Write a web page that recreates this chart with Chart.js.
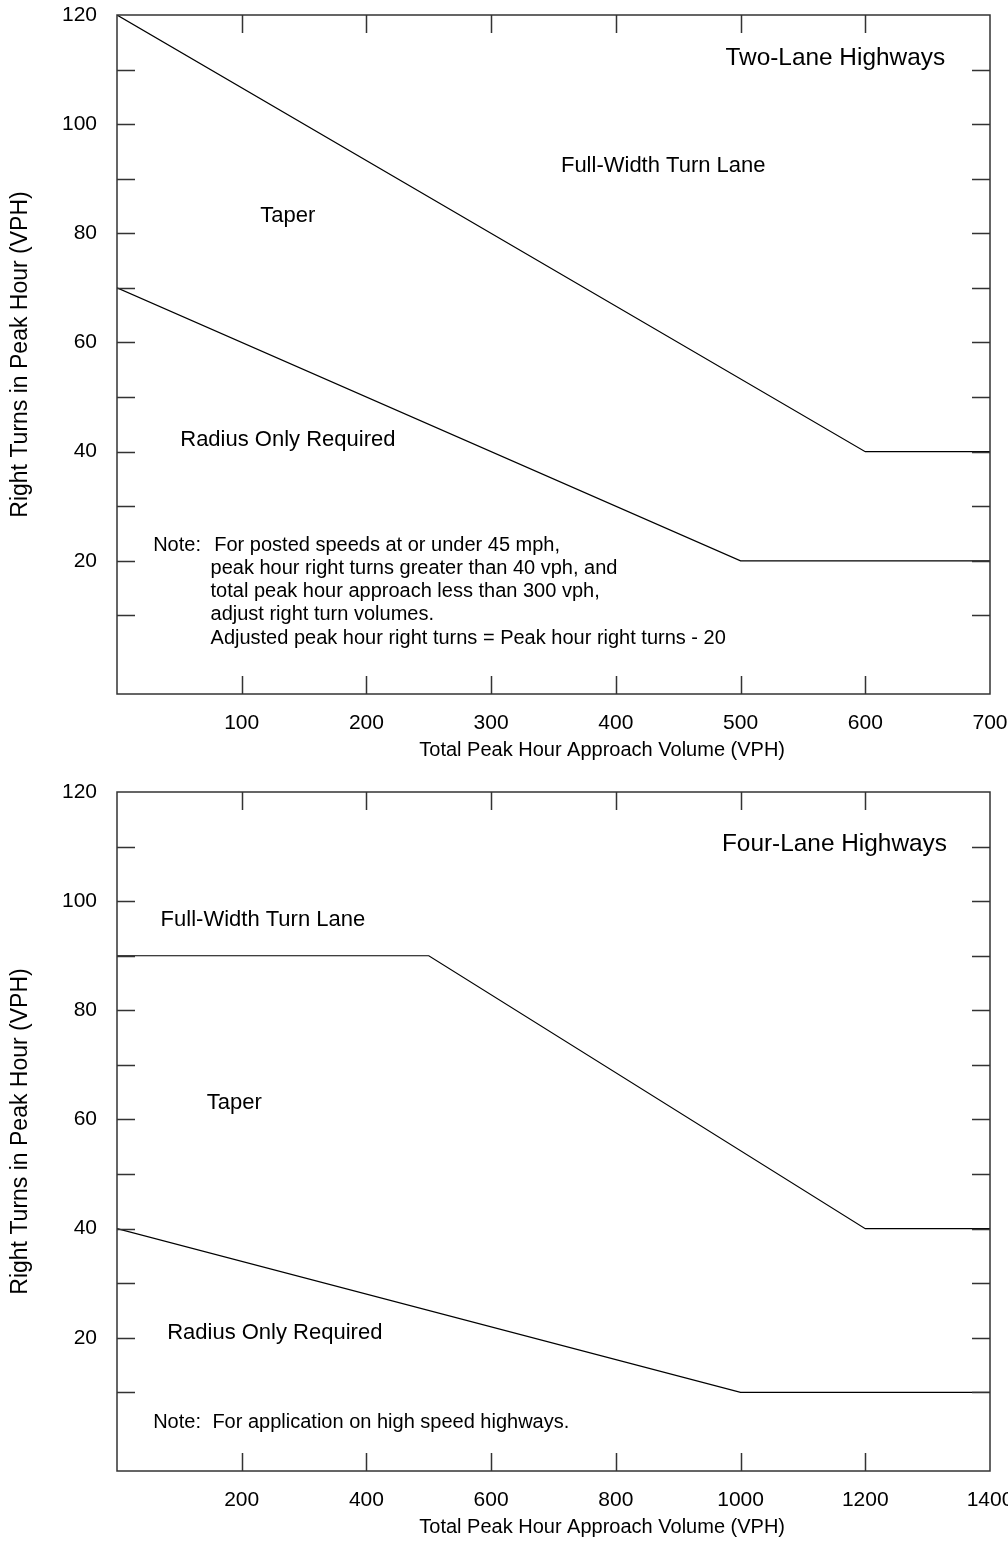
<!DOCTYPE html>
<html>
<head>
  <title>Right Turn Lane Guidelines</title>
<script src="https://cdn.jsdelivr.net/npm/chart.js"></script>
<meta name="viewport" content="width=device-width, initial-scale=1.0">
</head>
<style>
html, body {
  margin: 0;
  padding: 0;
  background: #fff;
  overflow: hidden;
}

#page {
  width: 1030px;
}

canvas {
  display: block;
}
</style>
<body>
<div id="page">
  <canvas id="twoLane" width="1030" height="772"></canvas>
  <canvas id="fourLane" width="1030" height="773"></canvas>
</div>
</body>
<script>
// tick values shared by both charts
const yTicks = [10, 20, 30, 40, 50, 60, 70, 80, 90, 100, 110, 120];
const twoLaneXTicks = [100, 200, 300, 400, 500, 600, 700];
const fourLaneXTicks = [200, 400, 600, 800, 1000, 1200, 1400];

// two-lane boundaries
const twoLaneUpperX = [0, 600, 700];
const twoLaneUpperY = [120, 40, 40];
const twoLaneLowerX = [0, 500, 700];
const twoLaneLowerY = [70, 20, 20];

// four-lane boundaries
const fourLaneUpperX = [0, 500, 1200, 1400];
const fourLaneUpperY = [90, 90, 40, 40];
const fourLaneLowerX = [0, 1000, 1400];
const fourLaneLowerY = [40, 10, 10];

const FONT = "'Liberation Sans', Arial, Helvetica, sans-serif";
Chart.defaults.font.family = FONT;
Chart.defaults.color = '#000';

function points(xs, ys) {
  return xs.map((x, i) => ({ x: x, y: ys[i] }));
}

// box, inward tick marks, region labels and x title
const framePlugin = {
  id: 'frame',
  afterDatasetsDraw(chart, args, opts) {
    const ctx = chart.ctx;
    const a = chart.chartArea;
    const x = chart.scales.x;
    const y = chart.scales.y;
    ctx.save();
    ctx.strokeStyle = '#333';
    ctx.lineWidth = 1.5;
    ctx.strokeRect(a.left, a.top, a.right - a.left, a.bottom - a.top);

    ctx.beginPath();
    x.ticks.forEach(t => {
      if (t.value <= x.min || t.value >= x.max) return;
      const px = Math.round(x.getPixelForValue(t.value)) + 0.5;
      ctx.moveTo(px, a.bottom);
      ctx.lineTo(px, a.bottom - 18);
      ctx.moveTo(px, a.top);
      ctx.lineTo(px, a.top + 18);
    });
    y.ticks.forEach(t => {
      if (t.value <= y.min || t.value >= y.max) return;
      const py = Math.round(y.getPixelForValue(t.value)) + 0.5;
      ctx.moveTo(a.left, py);
      ctx.lineTo(a.left + 18, py);
      ctx.moveTo(a.right, py);
      ctx.lineTo(a.right - 18, py);
    });
    ctx.stroke();

    // text is centred on its cap height, a little below the em middle
    const drop = 2;
    ctx.fillStyle = '#000';
    ctx.textBaseline = 'middle';
    opts.labels.forEach(l => {
      ctx.font = l.size + 'px ' + FONT;
      ctx.textAlign = l.align;
      ctx.fillText(l.text, x.getPixelForValue(l.x), y.getPixelForValue(l.y) + drop);
    });

    // note block
    const n = opts.note;
    ctx.font = n.size + 'px ' + FONT;
    ctx.textAlign = 'left';
    const ny = y.getPixelForValue(n.y) + drop;
    ctx.fillText('Note:', x.getPixelForValue(n.x), ny);
    n.lines.forEach((line, i) => {
      const lx = i === 0 ? n.first : n.indent;
      ctx.fillText(line, x.getPixelForValue(lx), ny + i * n.spacing);
    });

    // x axis title
    ctx.font = '20px ' + FONT;
    ctx.textAlign = 'center';
    ctx.fillText('Total Peak Hour Approach Volume (VPH)', x.getPixelForValue(opts.titleAt), a.bottom + 56);
    ctx.restore();
  }
};

function makeChart(id, xMax, xTicks, sets, frame, padTop, padBottom) {
  return new Chart(document.getElementById(id), {
    type: 'line',
    data: {
      datasets: sets.map(s => ({
        data: s,
        borderColor: '#000',
        borderWidth: 1.2,
        pointRadius: 0,
        fill: false,
        tension: 0
      }))
    },
    options: {
      responsive: false,
      animation: false,
      layout: { padding: { top: padTop, bottom: padBottom, left: 0, right: 40 } },
      plugins: {
        legend: { display: false },
        tooltip: { enabled: false },
        frame: frame
      },
      scales: {
        x: {
          type: 'linear',
          min: 0,
          max: xMax,
          afterBuildTicks: s => { s.ticks = xTicks.map(v => ({ value: v })); },
          afterFit: s => {
            s.height = 69;
            s.paddingLeft = 0;
            s.paddingRight = 0;
          },
          grid: { display: false, drawTicks: false },
          border: { display: false },
          ticks: {
            autoSkip: false,
            maxRotation: 0,
            padding: 17,
            font: { size: 21 },
            color: '#000',
            callback: v => String(v)
          }
        },
        y: {
          type: 'linear',
          min: -4.4,
          max: 120,
          afterBuildTicks: s => { s.ticks = yTicks.map(v => ({ value: v })); },
          afterFit: s => {
            s.width = 117;
            s.paddingTop = 0;
            s.paddingBottom = 0;
          },
          grid: { display: false, drawTicks: false },
          border: { display: false },
          ticks: {
            autoSkip: false,
            padding: 20,
            font: { size: 21 },
            color: '#000',
            callback: v => (v % 20 === 0 ? String(v) : '')
          },
          title: {
            display: true,
            text: 'Right Turns in Peak Hour (VPH)',
            color: '#000',
            font: { size: 23 },
            padding: { top: 7, bottom: 0 }
          }
        }
      }
    },
    plugins: [framePlugin]
  });
}

makeChart('twoLane', 700, twoLaneXTicks,
  [points(twoLaneUpperX, twoLaneUpperY), points(twoLaneLowerX, twoLaneLowerY)],
  {
    titleAt: 389,
    labels: [
      { text: 'Two-Lane Highways', x: 664, y: 112.5, align: 'right', size: 24.4 },
      { text: 'Full-Width Turn Lane', x: 438, y: 92.7, align: 'center', size: 22 },
      { text: 'Taper', x: 137, y: 83.5, align: 'center', size: 22 },
      { text: 'Radius Only Required', x: 137, y: 42.5, align: 'center', size: 22 }
    ],
    note: {
      x: 29, first: 78, indent: 75, y: 23.2, spacing: 23.2, size: 20,
      lines: [
        'For posted speeds at or under 45 mph,',
        'peak hour right turns greater than 40 vph, and',
        'total peak hour approach less than 300 vph,',
        'adjust right turn volumes.',
        'Adjusted peak hour right turns = Peak hour right turns - 20'
      ]
    }
  }, 15, 9);

makeChart('fourLane', 1400, fourLaneXTicks,
  [points(fourLaneUpperX, fourLaneUpperY), points(fourLaneLowerX, fourLaneLowerY)],
  {
    titleAt: 778,
    labels: [
      { text: 'Four-Lane Highways', x: 1331, y: 110.8, align: 'right', size: 24.4 },
      { text: 'Full-Width Turn Lane', x: 234, y: 96.9, align: 'center', size: 22 },
      { text: 'Taper', x: 188, y: 63.4, align: 'center', size: 22 },
      { text: 'Radius Only Required', x: 253, y: 21.2, align: 'center', size: 22 }
    ],
    note: {
      x: 58, first: 153, indent: 153, y: 4.8, spacing: 23.2, size: 20,
      lines: ['For application on high speed highways.']
    }
  }, 20, 5);
</script>
</html>
